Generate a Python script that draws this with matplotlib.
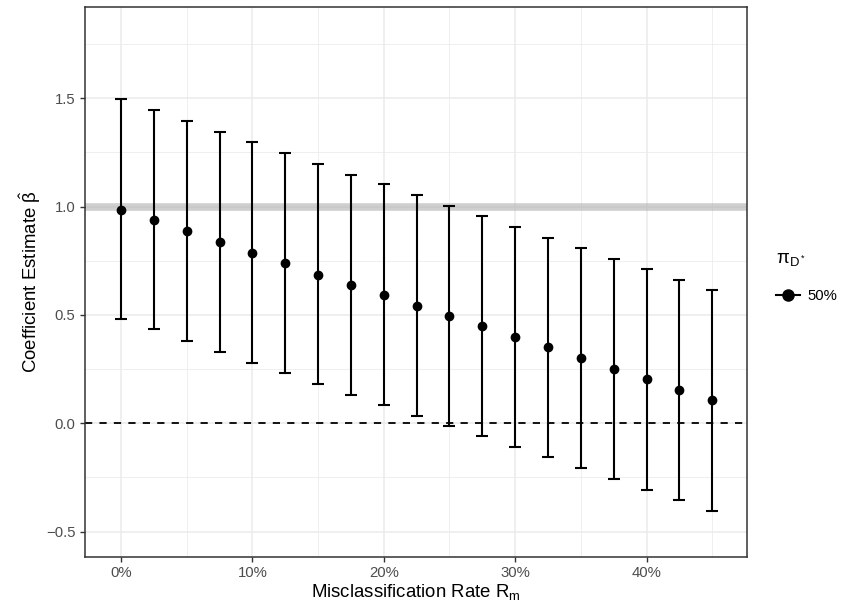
import matplotlib
matplotlib.use("Agg")
import matplotlib.pyplot as plt
from matplotlib.lines import Line2D
from matplotlib.ticker import FuncFormatter

plt.rcParams['font.family'] = ['Liberation Sans', 'DejaVu Sans']
plt.rcParams['mathtext.fontset'] = 'custom'
plt.rcParams['mathtext.rm'] = 'Liberation Sans'
plt.rcParams['mathtext.it'] = 'Liberation Sans:italic'
plt.rcParams['mathtext.bf'] = 'Liberation Sans:bold'

# Data
rates = [0, 2.5, 5, 7.5, 10, 12.5, 15, 17.5, 20, 22.5, 25, 27.5, 30, 32.5, 35, 37.5, 40, 42.5, 45]
estimates = [0.985, 0.940, 0.887, 0.835, 0.787, 0.738, 0.686, 0.637, 0.594, 0.542,
             0.495, 0.447, 0.399, 0.350, 0.300, 0.252, 0.204, 0.153, 0.107]
upper = [1.495, 1.447, 1.395, 1.344, 1.297, 1.247, 1.196, 1.146, 1.104, 1.053,
         1.003, 0.957, 0.907, 0.857, 0.807, 0.760, 0.713, 0.662, 0.614]
lower = [0.481, 0.433, 0.380, 0.329, 0.280, 0.230, 0.179, 0.129, 0.086, 0.034,
         -0.013, -0.060, -0.108, -0.158, -0.207, -0.256, -0.306, -0.356, -0.405]
true_value = 1.0
x_ticks = [0, 10, 20, 30, 40]
y_ticks = [-0.5, 0.0, 0.5, 1.0, 1.5]
legend_label = '50%'

fig = plt.figure(figsize=(8.47, 6.03), dpi=100)
ax = fig.add_axes([0.0998, 0.0768, 0.8818 - 0.0998, 0.9876 - 0.0768])

ax.set_xlim(-2.78, 47.64)
ax.set_ylim(-0.616, 1.919)

# grid
for v in [5, 15, 25, 35, 45]:
    ax.axvline(v, color='#ebebeb', lw=0.55, zorder=0)
for v in [-0.25, 0.25, 0.75, 1.25, 1.75]:
    ax.axhline(v, color='#ebebeb', lw=0.55, zorder=0)
for v in x_ticks:
    ax.axvline(v, color='#ebebeb', lw=1.1, zorder=0)
for v in y_ticks:
    ax.axhline(v, color='#ebebeb', lw=1.1, zorder=0)

# reference lines
ax.axhline(true_value, color='#b0b0b0', lw=5.5, alpha=0.6, zorder=1, solid_capstyle='butt')
ax.axhline(0, color='black', lw=1.3, linestyle=(0, (4, 4)), zorder=2)

# error bars
yerr = [[e - l for e, l in zip(estimates, lower)], [u - e for u, e in zip(upper, estimates)]]
ax.errorbar(rates, estimates, yerr=yerr, fmt='none', ecolor='black', elinewidth=1.5,
            capsize=4.4, capthick=1.5, zorder=3)
ax.plot(rates, estimates, 'o', color='black', ms=6, zorder=4)

ax.xaxis.set_major_locator(plt.FixedLocator(x_ticks))
ax.yaxis.set_major_locator(plt.FixedLocator(y_ticks))
ax.xaxis.set_major_formatter(FuncFormatter(lambda v, p: f'{v:.0f}%'))
ax.yaxis.set_major_formatter(FuncFormatter(lambda v, p: f'{v:.1f}'.replace('-', '\u2212')))
ax.tick_params(axis='both', colors='#333333', length=3.5, width=1.0, labelsize=10.7,
               labelcolor='#4d4d4d', pad=3)

for s in ax.spines.values():
    s.set_color('#333333')
    s.set_linewidth(1.1)

ax.set_xlabel(r'Misclassification Rate R$_\mathrm{m}$', fontsize=13.4, labelpad=2)
ax.set_ylabel(r'Coefficient Estimate $\mathrm{\hat{\beta}}$', fontsize=13.4, labelpad=2)

handle = Line2D([], [], color='black', marker='o', ms=8, lw=1.5)
leg = ax.legend([handle], [legend_label], title=r'π$_{\mathrm{D}^*}$', loc='upper left',
                bbox_to_anchor=(1.026, 0.58), frameon=False, fontsize=10.7,
                title_fontsize=13.4, handlelength=1.6, handletextpad=0.55,
                borderaxespad=0, borderpad=0.8, labelspacing=0.5)
leg._legend_box.align = 'left'
leg._legend_box.sep = 15

fig.savefig('out.png', dpi=100)
